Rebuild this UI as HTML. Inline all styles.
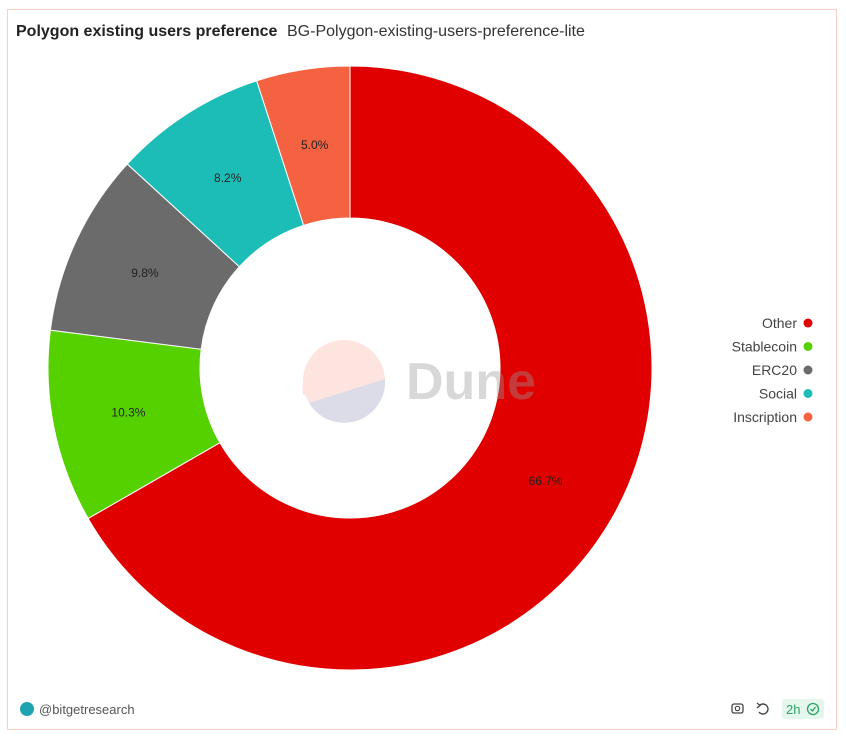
<!DOCTYPE html>
<html><head><meta charset="utf-8">
<style>
html,body{margin:0;padding:0;background:#fff;width:846px;height:743px;overflow:hidden;font-family:"Liberation Sans",sans-serif}
#card{position:absolute;left:7px;top:9px;width:830px;height:721px;border:1px solid #f6cfc6;box-sizing:border-box}
</style></head><body>
<div id="card"></div>
<svg id="svg" width="846" height="743" style="position:absolute;left:0;top:0">
<text x="16" y="36" font-size="16" font-weight="bold" fill="#222">Polygon existing users preference</text>
<text x="287" y="36" font-size="16" fill="#333">BG-Polygon-existing-users-preference-lite</text>
<g id="slices"></g>
<g id="labels"></g>
<g opacity="0.85">
<path d="M303,395 A41,41 0 0 1 385,382 Z" fill="#fde0da"/>
<circle cx="344" cy="381" r="41" fill="#fde0da"/>
<path d="M385,379 A41,41 0 0 1 309,403 Z" fill="#d5d6e4"/>
<text x="406" y="399" font-size="52" font-weight="bold" fill="#999" opacity="0.45">Dune</text>
</g>
<g id="legend"></g>
<circle cx="27" cy="709" r="7" fill="#1fa3b0"/>
<text x="39" y="714" font-size="13" fill="#555">@bitgetresearch</text>
<g><rect x="732" y="704" width="11" height="9" rx="2" fill="none" stroke="#444" stroke-width="1.3"/><circle cx="737.5" cy="708.5" r="2.2" fill="none" stroke="#444" stroke-width="1.2"/></g>
<g><path d="M760,705 A5,5 0 1 1 759,712" fill="none" stroke="#444" stroke-width="1.4"/><path d="M757,703 L760,705.5 L757,708" fill="none" stroke="#444" stroke-width="1.3"/></g>
<g><rect x="782" y="699" width="42" height="20" rx="3" fill="#e5f7ec"/><text x="786" y="714" font-size="13" fill="#2aa363">2h</text><circle cx="813" cy="709" r="5.5" fill="none" stroke="#2aa363" stroke-width="1.3"/><path d="M810.5,709 L812.5,711 L815.5,707" fill="none" stroke="#2aa363" stroke-width="1.3"/></g>
</svg>
<script>
const categories=["Other","Stablecoin","ERC20","Social","Inscription"];
const values=[66.7,10.3,9.8,8.2,5.0];
const colors=["#e00000","#56d100","#6b6b6b","#1cbdb6","#f46241"];
const cx=350,cy=368,R=302,r=150;
const NS="http://www.w3.org/2000/svg";
const total=values.reduce((a,b)=>a+b,0);
function pt(a,rad){return [cx+rad*Math.sin(a),cy-rad*Math.cos(a)];}
let a0=0;
const sg=document.getElementById('slices'),lg=document.getElementById('labels'),leg=document.getElementById('legend');
values.forEach((v,i)=>{
  const a1=a0+v/total*2*Math.PI;
  const [x0,y0]=pt(a0,R),[x1,y1]=pt(a1,R),[x2,y2]=pt(a1,r),[x3,y3]=pt(a0,r);
  const big=(a1-a0)>Math.PI?1:0;
  const p=document.createElementNS(NS,'path');
  p.setAttribute('d',`M${x0},${y0} A${R},${R} 0 ${big} 1 ${x1},${y1} L${x2},${y2} A${r},${r} 0 ${big} 0 ${x3},${y3} Z`);
  p.setAttribute('fill',colors[i]);p.setAttribute('stroke','#fff');p.setAttribute('stroke-width','1');
  
  
  sg.appendChild(p);
  const [lx,ly]=pt((a0+a1)/2,(R+r)/2);
  const t=document.createElementNS(NS,'text');
  t.setAttribute('x',lx);t.setAttribute('y',ly+4);t.setAttribute('text-anchor','middle');
  t.setAttribute('font-size','12');t.setAttribute('fill','#222');
  t.textContent=v.toFixed(1)+'%';
  
  
  lg.appendChild(t);
  const g=document.createElementNS(NS,'g');
  
  
  const yy=323+i*23.5;
  const lt=document.createElementNS(NS,'text');
  lt.setAttribute('x',797);lt.setAttribute('y',yy+5);lt.setAttribute('text-anchor','end');
  lt.setAttribute('font-size','14');lt.setAttribute('fill','#444');lt.textContent=categories[i];
  const c=document.createElementNS(NS,'circle');
  c.setAttribute('cx',808);c.setAttribute('cy',yy);c.setAttribute('r',4.5);c.setAttribute('fill',colors[i]);
  g.appendChild(lt);g.appendChild(c);leg.appendChild(g);
  a0=a1;
});
</script>
</body></html>
